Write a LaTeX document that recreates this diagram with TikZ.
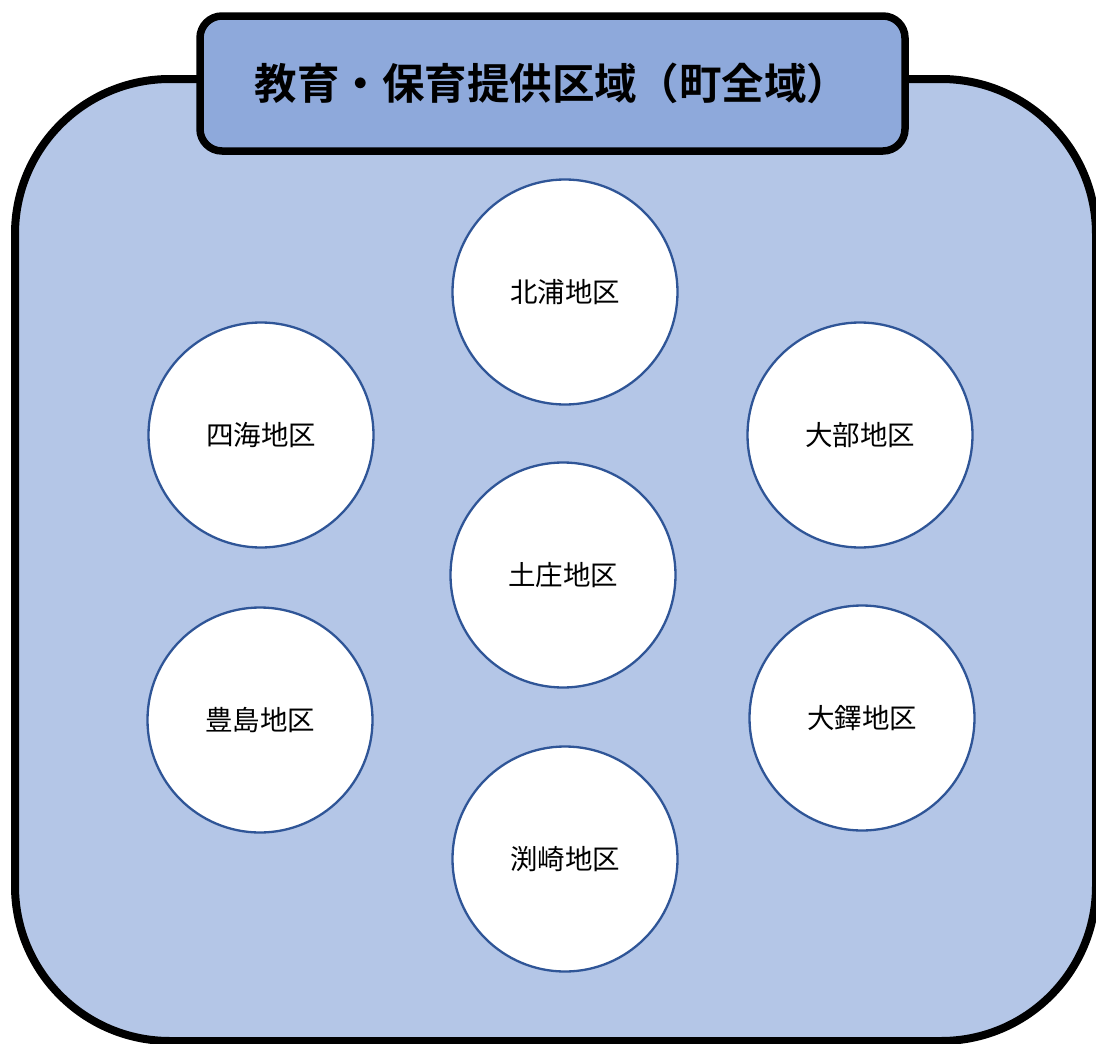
\documentclass[tikz,border=0pt]{standalone}
\usepackage{fontspec}
\newfontfamily\jpfont{Noto Sans CJK JP}
\newfontfamily\jpbold{Noto Sans CJK JP}[BoldFont={* Bold}]
\definecolor{areafill}{HTML}{B4C6E7}
\definecolor{titlefill}{HTML}{8EA9DB}
\definecolor{circleline}{HTML}{2F5597}
\begin{document}
\begin{tikzpicture}[x=1pt,y=-1pt,
  district/.style={circle, draw=circleline, line width=2.3pt, fill=white,
    minimum size=225pt, inner sep=0pt, font=\jpfont\fontsize{27.5}{30}\selectfont},
  areabox/.style={draw=black, line width=8pt, fill=areafill, rounded corners=155pt},
  titlebox/.style={draw=black, line width=7.5pt, fill=titlefill, rounded corners=22pt}]
\useasboundingbox (0,0) rectangle (1096,1044);
\clip (0,0) rectangle (1096,1044);
\draw[areabox] (15,79) rectangle (1096,1041);
\draw[titlebox] (200,16) rectangle (905,151);
\node[font=\jpbold\bfseries\fontsize{42.5}{48}\selectfont, inner sep=0pt] (title) at (552,83) {教育・保育提供区域（町全域）};
\node[district] (kitaura) at (565,292) {北浦地区};
\node[district] (shikai) at (261,435) {四海地区};
\node[district] (obe) at (860,435) {大部地区};
\node[district] (tonosho) at (563,575) {土庄地区};
\node[district] (teshima) at (260,720) {豊島地区};
\node[district] (otaku) at (862,718) {大鐸地区};
\node[district] (fuchizaki) at (565,859) {渕崎地区};
\end{tikzpicture}
\end{document}
